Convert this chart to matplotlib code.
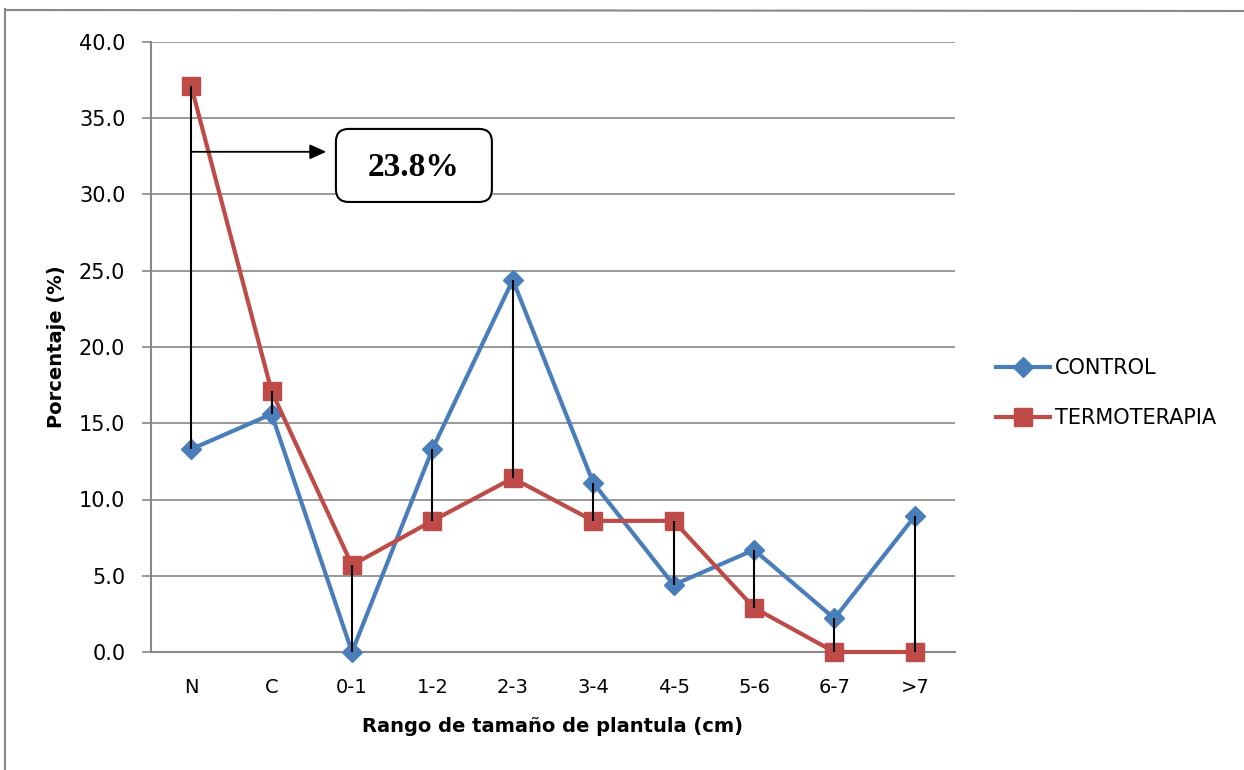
import matplotlib
matplotlib.use("Agg")
import matplotlib.pyplot as plt
from matplotlib.patches import FancyBboxPatch
from matplotlib.lines import Line2D

categories = ["N", "C", "0-1", "1-2", "2-3", "3-4", "4-5", "5-6", "6-7", ">7"]
control = [13.3, 15.6, 0.0, 13.3, 24.4, 11.1, 4.4, 6.7, 2.2, 8.9]
termoterapia = [37.1, 17.1, 5.7, 8.6, 11.4, 8.6, 8.6, 2.9, 0.0, 0.0]
yticks = [0, 5, 10, 15, 20, 25, 30, 35, 40]
annotation_text = "23.8%"

plt.rcParams['font.family'] = ['DejaVu Sans']

W, H = 1244, 770
fig = plt.figure(figsize=(W / 100, H / 100), dpi=100)
ax = fig.add_axes([151 / W, 1 - 652 / H, (955 - 151) / W, (652 - 42) / H])

x = list(range(len(categories)))
blue = "#4A7EBB"
red = "#BE4B48"

ax.plot(x, control, color=blue, lw=3, marker="D", ms=10.5, mec=blue, mfc=blue,
        label="CONTROL", zorder=3, clip_on=False)
ax.plot(x, termoterapia, color=red, lw=3, marker="s", ms=12.5, mec=red, mfc=red,
        label="TERMOTERAPIA", zorder=3, clip_on=False)

# high-low lines
lo = [min(a, b) for a, b in zip(control, termoterapia)]
hi = [max(a, b) for a, b in zip(control, termoterapia)]
ax.vlines(x, lo, hi, color="black", lw=1.5, zorder=5, clip_on=False)

ax.set_xlim(-0.5, len(categories) - 0.5)
ax.set_ylim(0, 40)
ax.set_yticks(yticks)
ax.set_yticklabels([f"{v:.1f}" for v in yticks], fontsize=15)
ax.set_xticks(x)
ax.set_xticklabels(categories, fontsize=14)
ax.tick_params(axis="x", length=0, pad=19)
ax.tick_params(axis="y", length=6.5, color="#888888", width=1.2, pad=12, direction="out")
ax.yaxis.grid(True, color="#888888", lw=1.2)
ax.set_axisbelow(True)
for s in ["top", "right"]:
    ax.spines[s].set_visible(False)
ax.spines["left"].set_color("#888888")
ax.spines["left"].set_linewidth(1.5)
ax.spines["bottom"].set_color("#888888")
ax.spines["bottom"].set_linewidth(1.5)

ax.set_xlabel("Rango de tamaño de plantula (cm)", fontsize=14, fontweight="bold", labelpad=14)
ax.set_ylabel("Porcentaje (%)", fontsize=14, fontweight="bold", labelpad=9)

# arrow
ax.annotate("", xy=(1.68, 32.8), xytext=(0, 32.8),
            arrowprops=dict(arrowstyle="-|>,head_length=1.0,head_width=0.45",
                            color="black", lw=1.3, shrinkA=0, shrinkB=0), zorder=6)

# rounded box
x0, x1 = 1.80, 3.74
y0, y1 = 29.51, 34.30
box = FancyBboxPatch((x0, y0), x1 - x0, y1 - y0,
                     boxstyle="round,pad=0,rounding_size=0.16",
                     mutation_aspect=5.3, fc="white", ec="black", lw=1.5, zorder=6)
ax.add_patch(box)
ax.text((x0 + x1) / 2, (y0 + y1) / 2 - 0.15, annotation_text, ha="center", va="center",
        fontsize=24, fontweight="bold", family=["Liberation Serif", "DejaVu Serif"], zorder=7)

leg = fig.legend(loc="center left", bbox_to_anchor=(996 / W, 1 - 393 / H), frameon=False,
                 fontsize=15, handlelength=2.6, handletextpad=0.25, labelspacing=1.45,
                 borderaxespad=0, borderpad=0)

# outer border (top and left)
fig.add_artist(Line2D([5 / W, 5 / W], [0, 1 - 9 / H], transform=fig.transFigure,
                      color="#888888", lw=1.5))
fig.add_artist(Line2D([5 / W, 1], [1 - 10 / H, 1 - 11 / H], transform=fig.transFigure,
                      color="#888888", lw=1.5))

fig.savefig("out.png", dpi=100)
